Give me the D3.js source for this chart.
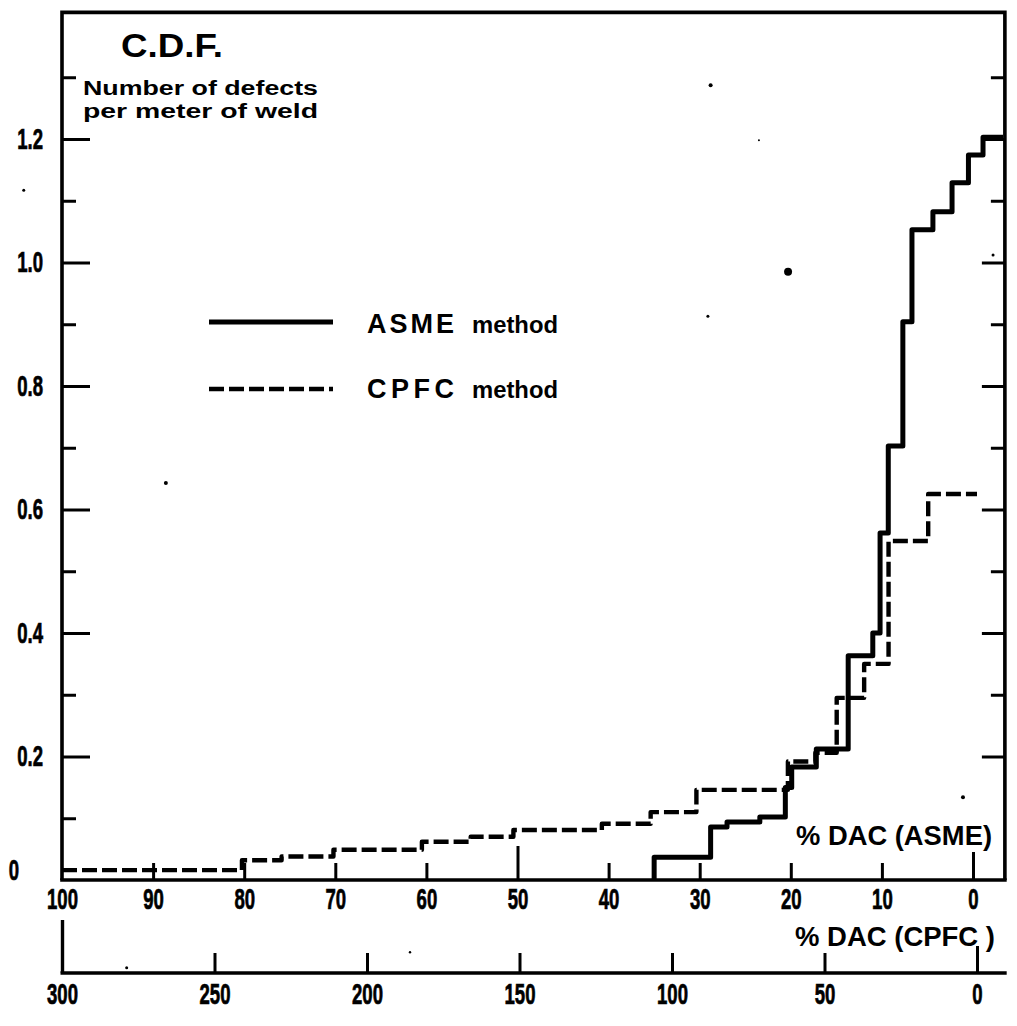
<!DOCTYPE html>
<html>
<head>
<meta charset="utf-8">
<script src="https://cdn.jsdelivr.net/npm/d3@7/dist/d3.min.js"></script>
<style>
  html, body { margin: 0; padding: 0; background: #fff; }
  svg { display: block; }
  .num { font-family: "Liberation Sans", Arial, sans-serif; font-weight: bold; font-size: 29px; fill: #000; stroke: #000; stroke-width: 0.7px; }
  .lbl { font-family: "Liberation Sans", Arial, sans-serif; font-weight: bold; fill: #000; }
</style>
</head>
<body>
<script>
// Cumulative distribution of weld defects versus % DAC threshold
// ASME method: step points (threshold in % DAC ASME, defects per metre)
const asmeDac = [35, 35, 28.8, 27, 23.4, 20.6, 19.9, 17.2, 13.7, 11, 10.2, 9.3, 7.7, 6.7, 4.4, 2.3, 0.5, -1.1, -3.3];
const asmeCdf = [0, 0.037, 0.086, 0.094, 0.102, 0.150, 0.183, 0.212, 0.363, 0.400, 0.562, 0.703, 0.904, 1.053, 1.082, 1.129, 1.174, 1.203, 1.203];

// CPFC method: step points (threshold in % DAC CPFC, defects per metre)
const cpfcDac = [300, 241, 228, 211, 182, 166, 152, 123, 107, 92, 62, 53, 46, 37, 29, 16, 0];
const cpfcCdf = [0.016, 0.032, 0.038, 0.049, 0.062, 0.070, 0.081, 0.091, 0.110, 0.146, 0.192, 0.206, 0.295, 0.350, 0.549, 0.625, 0.625];

// Axis ticks
const yMajor = [0, 0.2, 0.4, 0.6, 0.8, 1.0, 1.2];
const yMinor = [0.1, 0.3, 0.5, 0.7, 0.9, 1.1, 1.3];
const asmeTicks = [100, 90, 80, 70, 60, 50, 40, 30, 20, 10, 0];
const cpfcTicks = [300, 250, 200, 150, 100, 50, 0];

// Frame extent in data units
const dacRightEdge = -3.5;
const cdfTop = 1.405;

// Small ink specks on the sheet: [dac ASME, cdf, radius]
const specks = [[20.3, 0.985, 4], [28.8, 1.287, 2], [29.1, 0.913, 1.5], [23.5, 1.198, 1],
                [-2.2, 1.012, 1.5], [1.1, 0.134, 2], [104.2, 1.117, 1.5], [88.6, 0.643, 2],
                [92.9, -0.142, 1.5], [61.8, -0.117, 1.2]];

const W = 1017, H = 1026;
const squeeze = 0.64; // horizontal condensing of the numeral labels

const svg = d3.select("body").append("svg").attr("width", W).attr("height", H);
svg.append("rect").attr("width", W).attr("height", H).attr("fill", "#fff");

const x = d3.scaleLinear().domain([100, 0]).range([62, 973]);
const xc = d3.scaleLinear().domain([300, 0]).range([62, 977]);
const y = d3.scaleLinear().domain([0, 1.2]).range([880, 139]);

const ink = "#000";

// Frame: left, top, right borders and the ASME axis line
svg.append("path")
  .attr("d", `M${x(100)},${y(0)}V${y(cdfTop)}H${x(dacRightEdge)}V${y(0)}`)
  .attr("fill", "none").attr("stroke", ink).attr("stroke-width", 3.6).attr("stroke-linejoin", "miter");
svg.append("line")
  .attr("x1", x(100) - 1.8).attr("x2", x(dacRightEdge) + 1.8).attr("y1", y(0)).attr("y2", y(0))
  .attr("stroke", ink).attr("stroke-width", 3.6);

function styleAxis(g) {
  g.select(".domain").remove();
  g.selectAll(".tick line").attr("stroke", ink).attr("stroke-width", 3);
  g.selectAll(".tick text").attr("class", "num")
    .attr("transform", `scale(${squeeze},1)`);
}

// Left axis with labels
const yFmt = d => d === 0 ? "0" : d3.format(".1f")(d);
const leftPad = 19;
svg.append("g").attr("transform", `translate(${x(100)},0)`)
  .call(d3.axisLeft(y).tickValues(yMajor.filter(d => d > 0)).tickSize(-28).tickPadding(leftPad).tickFormat(yFmt))
  .call(styleAxis)
  .selectAll(".tick text").attr("x", -leftPad / squeeze);
svg.append("g").attr("transform", `translate(${x(100)},-10)`)
  .call(d3.axisLeft(y).tickValues([0]).tickSize(0).tickPadding(leftPad).tickFormat(yFmt))
  .call(styleAxis)
  .selectAll(".tick text").attr("x", -(leftPad + 24) / squeeze);
svg.append("g").attr("transform", `translate(${x(100)},0)`)
  .call(d3.axisLeft(y).tickValues(yMinor).tickSize(-14).tickFormat(""))
  .call(styleAxis);

// Right axis, ticks only
svg.append("g").attr("transform", `translate(${x(dacRightEdge)},0)`)
  .call(d3.axisRight(y).tickValues(yMajor.filter(d => d > 0)).tickSize(-23).tickFormat(""))
  .call(styleAxis);
svg.append("g").attr("transform", `translate(${x(dacRightEdge)},0)`)
  .call(d3.axisRight(y).tickValues(yMinor.filter(d => d > 0.15)).tickSize(-14).tickFormat(""))
  .call(styleAxis);

// ASME % DAC axis
const gA = svg.append("g").attr("transform", `translate(0,${y(0)})`)
  .call(d3.axisBottom(x).tickValues(asmeTicks).tickSize(-17).tickPadding(8).tickFormat(d3.format("d")))
  .call(styleAxis);
gA.selectAll(".tick line").attr("y2", d => d === 100 ? 0 : d === 50 ? -34 : d === 0 ? -28 : -17);

// CPFC % DAC axis
const cpfcY = 973;
svg.append("line")
  .attr("x1", xc(300) - 1.5).attr("x2", x(dacRightEdge) + 1.8).attr("y1", cpfcY).attr("y2", cpfcY)
  .attr("stroke", ink).attr("stroke-width", 3.4);
const gC = svg.append("g").attr("transform", `translate(0,${cpfcY})`)
  .call(d3.axisBottom(xc).tickValues(cpfcTicks).tickSize(-20).tickPadding(10).tickFormat(d3.format("d")))
  .call(styleAxis);
gC.selectAll(".tick line").attr("y2", d => d === 300 ? -53 : d === 0 ? -27 : -20)
  .attr("stroke-width", d => d === 300 ? 3.4 : 3);

// Step curves
const asmeLine = d3.line().x(d => x(d[0])).y(d => y(d[1])).curve(d3.curveStepAfter);
const cpfcLine = d3.line().x(d => xc(d[0])).y(d => y(d[1])).curve(d3.curveStepAfter);

svg.append("path")
  .attr("d", cpfcLine(d3.zip(cpfcDac, cpfcCdf)))
  .attr("fill", "none").attr("stroke", ink).attr("stroke-width", 4.4)
  .attr("stroke-dasharray", "15,5").attr("stroke-linejoin", "round");

svg.append("path")
  .attr("d", asmeLine(d3.zip(asmeDac, asmeCdf)))
  .attr("fill", "none").attr("stroke", ink).attr("stroke-width", 5)
  .attr("stroke-linejoin", "round");

// Titles
svg.append("text").attr("class", "lbl").attr("x", 121).attr("y", 57)
  .attr("font-size", 34).attr("textLength", 102).attr("lengthAdjust", "spacingAndGlyphs").text("C.D.F.");
svg.append("text").attr("class", "lbl").attr("x", 83).attr("y", 95)
  .attr("font-size", 20).attr("textLength", 235).attr("lengthAdjust", "spacingAndGlyphs").text("Number of defects");
svg.append("text").attr("class", "lbl").attr("x", 83).attr("y", 118)
  .attr("font-size", 20).attr("textLength", 235).attr("lengthAdjust", "spacingAndGlyphs").text("per meter of weld");

// Legend
const legend = [
  {name: "ASME", dash: null, ly: 322, base: 333},
  {name: "CPFC", dash: "15,5", ly: 389, base: 398}
];
legend.forEach(l => {
  svg.append("line").attr("x1", 209).attr("x2", 333).attr("y1", l.ly).attr("y2", l.ly)
    .attr("stroke", ink).attr("stroke-width", l.dash ? 4.4 : 5)
    .attr("stroke-dasharray", l.dash);
  svg.append("text").attr("class", "lbl").attr("x", 367).attr("y", l.base)
    .attr("font-size", 27).attr("textLength", 87).attr("lengthAdjust", "spacing").text(l.name);
  svg.append("text").attr("class", "lbl").attr("x", 472).attr("y", l.base)
    .attr("font-size", 24).attr("textLength", 86).attr("lengthAdjust", "spacingAndGlyphs").text("method");
});

// Axis titles
svg.append("text").attr("class", "lbl").attr("x", 796).attr("y", 845)
  .attr("font-size", 27).attr("textLength", 196).attr("lengthAdjust", "spacingAndGlyphs").text("% DAC (ASME)");
svg.append("text").attr("class", "lbl").attr("x", 795).attr("y", 946)
  .attr("font-size", 27).attr("textLength", 200).attr("lengthAdjust", "spacingAndGlyphs").text("% DAC (CPFC )");

// Ink specks
svg.append("g").selectAll("circle").data(specks).join("circle")
  .attr("cx", d => x(d[0])).attr("cy", d => y(d[1])).attr("r", d => d[2]).attr("fill", ink);
</script>
</body>
</html>
